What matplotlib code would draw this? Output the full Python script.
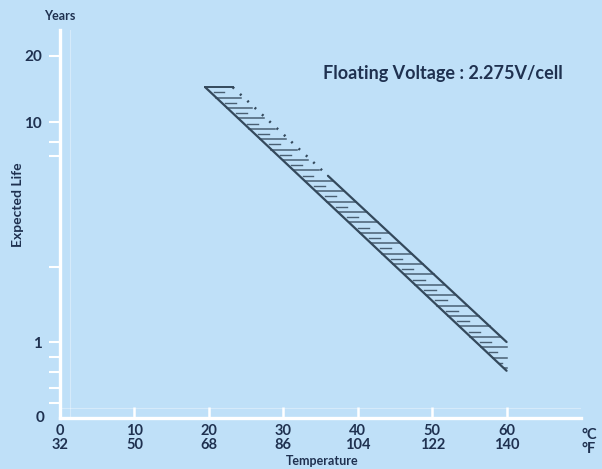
import numpy as np
import matplotlib
matplotlib.use("Agg")
import matplotlib.pyplot as plt
from matplotlib.transforms import blended_transform_factory

# ---- data ----
celsius_ticks = [0, 10, 20, 30, 40, 50, 60]
fahrenheit_labels = ["32", "50", "68", "86", "104", "122", "140"]
year_ticks = [1, 10, 20]
year_labels = ["1", "10", "20"]
year_minor_ticks = [0.53, 0.62, 0.73, 0.855, 2.2, 7.0, 8.1]

# lower (long-life side) boundary of the band
lower_temp = [19.5, 60]
lower_life = [14.4, 0.74]
# upper boundary of the band
upper_temp = [23.2, 60]
upper_life = [14.4, 1.0]
# end of the dotted part of the upper boundary
dotted_end_temp = 36.0

title_text = "Floating Voltage : 2.275V/cell"

# ---- style ----
BG = "#bfe0f8"
INK = "#34495c"
TXT = "#1f3150"
FONT = ["Lato", "DejaVu Sans"]

fig = plt.figure(figsize=(6.02, 4.69), dpi=100)
fig.patch.set_facecolor(BG)
ax = fig.add_axes([60 / 602, 51 / 469, 521 / 602, 388 / 469])
ax.set_facecolor(BG)

ax.set_yscale("log")
ax.set_xlim(0, 70)
ax.set_ylim(10 ** (-76 / 220), 10 ** (312 / 220))

for s in ["top", "right"]:
    ax.spines[s].set_visible(False)
for s in ["left", "bottom"]:
    ax.spines[s].set_color("white")
    ax.spines[s].set_linewidth(2.4)

# faint inner guide lines
ax.axvline(1.35, color="white", lw=0.8, alpha=0.35, zorder=0)
ax.axhline(0.50, color="white", lw=0.8, alpha=0.35, zorder=0)

# y ticks
ax.set_yticks(year_ticks)
ax.set_yticklabels(year_labels)
ax.set_yticks(year_minor_ticks, minor=True)
ax.yaxis.set_minor_formatter(matplotlib.ticker.NullFormatter())
ax.tick_params(axis="y", which="both", direction="out", length=8, width=1.5,
               color="white", pad=5, labelsize=11, labelcolor=TXT)
for lab in ax.get_yticklabels():
    lab.set_family(FONT)
    lab.set_fontweight("bold")

# x ticks
ax.set_xticks(celsius_ticks)
ax.set_xticklabels([f"{c}\n{f}" for c, f in zip(celsius_ticks, fahrenheit_labels)])
ax.tick_params(axis="x", direction="in", length=8, width=1.8, color="white",
               pad=4, labelsize=10.5, labelcolor=TXT)
for lab in ax.get_xticklabels():
    lab.set_family(FONT)
    lab.set_fontweight("bold")
    lab.set_linespacing(1.0)

# "0" at the origin of the y axis
ytrans = blended_transform_factory(fig.transFigure, ax.transAxes)
ax.text(44 / 602, 0.0, "0", transform=ytrans, ha="right", va="center",
        fontsize=11, fontweight="bold", color=TXT, family=FONT)

# unit labels at right end of x axis
ax.text(70.1, -0.025, "°C\n°F", transform=blended_transform_factory(ax.transData, ax.transAxes),
        ha="left", va="top", fontsize=10.5, fontweight="bold", color=TXT, family=FONT,
        linespacing=1.0, clip_on=False)

# axis titles
fig.text(60 / 602, 1 - 16 / 469, "Years", ha="center", va="center", fontsize=9,
         fontweight="bold", color=TXT, family=FONT)
fig.text(18 / 602, 1 - 205 / 469, "Expected Life", ha="center", va="center", rotation=90,
         fontsize=10, fontweight="bold", color=TXT, family=FONT)
fig.text(322 / 602, 1 - 461 / 469, "Temperature", ha="center", va="center", fontsize=9,
         fontweight="bold", color=TXT, family=FONT)
fig.text(323 / 602, 1 - 73 / 469, title_text, ha="left", va="center", fontsize=13,
         fontweight="bold", color=TXT, family=FONT)

# ---- band ----
ll = np.log10(lower_life)
ul = np.log10(upper_life)

def lower_x(logy):
    return np.interp(logy, ll[::-1], np.array(lower_temp)[::-1])

def upper_x(logy):
    if logy < ul[1]:
        return upper_temp[1]
    return np.interp(logy, ul[::-1], np.array(upper_temp)[::-1])

# boundaries
ax.plot(lower_temp, lower_life, color=INK, lw=1.6, solid_capstyle="round", zorder=3)
top = ll[0]
ax.plot([lower_temp[0], upper_temp[0]], [lower_life[0], upper_life[0]], color=INK, lw=1.4, zorder=3)
dot_logy = np.interp(dotted_end_temp, upper_temp, ul)
ax.plot([upper_temp[0], dotted_end_temp], [upper_life[0], 10 ** dot_logy], color=INK, lw=1.8,
        linestyle=(0, (0.8, 3.2)), zorder=3)
ax.plot([dotted_end_temp, upper_temp[1]], [10 ** dot_logy, upper_life[1]], color=INK, lw=1.6,
        solid_capstyle="round", zorder=3)

# hatching: alternating long / short horizontal strokes
step = 5.2 / 220  # decades per stroke
logy = top - step
i = 1
while logy > ll[1] + 0.002:
    xl = lower_x(logy)
    xr = upper_x(logy)
    w = xr - xl
    if i % 2 == 0:
        x0, x1 = xl, xr - (0.35 if logy > dot_logy else 0.0)
        lw = 1.1
    else:
        x0, x1 = xl + 0.12 * w, xl + 0.5 * w
        lw = 1.0
    ax.plot([x0, x1], [10 ** logy, 10 ** logy], color=INK, lw=lw, alpha=0.85, zorder=2)
    logy -= step
    i += 1

fig.savefig("out.png", dpi=100, facecolor=BG)
